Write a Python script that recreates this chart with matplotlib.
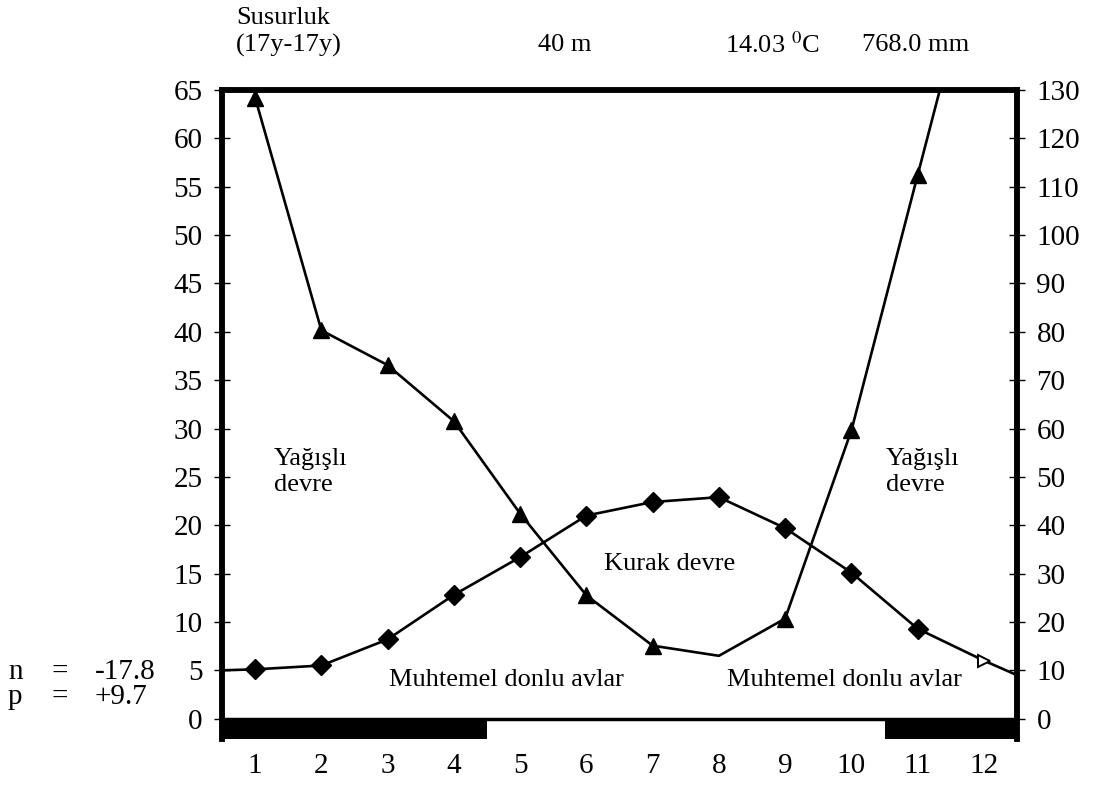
import numpy as np
import matplotlib
matplotlib.use("Agg")
import matplotlib.pyplot as plt

plt.rcParams['font.family'] = ['Liberation Serif', 'DejaVu Serif']
plt.rcParams['mathtext.fontset'] = 'stix'

# Walter-Lieth data for Susurluk
months = [1, 2, 3, 4, 5, 6, 7, 8, 9, 10, 11, 12]
temp = [5.1, 5.5, 8.2, 12.8, 16.7, 21.0, 22.4, 22.9, 19.7, 15.1, 9.3, 6.0]
precip = [128.4, 80.3, 73.1, 61.5, 42.4, 25.5, 15.1, 13.0, 20.7, 59.6, 112.4, 165.0]
temp_left_edge = 5.0
temp_right_edge = 4.5
frost_spans = [(0.5, 4.5), (10.5, 12.5)]

fig = plt.figure(figsize=(11.05, 7.85), dpi=100)
ax = fig.add_axes([0.2009, 0.0586, 0.7195, 0.8268])
ax2 = ax.twinx()

ax.set_xlim(0.5, 12.5)
ax.set_ylim(-2.1, 65)
ax2.set_ylim(-4.2, 130)

# temperature line incl. extension to the frame edges
tx = [0.5] + months + [12.5]
ty = [temp_left_edge] + temp + [temp_right_edge]
ax.plot(tx, ty, color="black", lw=1.9, zorder=3)
ax.plot(months[:-1], temp[:-1], ls="none", marker="D", ms=10, color="black", zorder=4)
ax.plot(months[-1:], temp[-1:], ls="none", marker=">", ms=9, mfc="white", mec="black", mew=1.4, zorder=4)

# precipitation line
ax2.plot(months, precip, color="black", lw=1.9, zorder=3)
shown = [i for i, p in enumerate(precip) if p <= 130 and months[i] != 8]
ax2.plot([months[i] for i in shown], [precip[i] for i in shown],
         ls="none", marker="^", ms=12, color="black", zorder=4)

# frost bars below zero
for a, b in frost_spans:
    ax.fill_between([a, b], -2.1, 0, color="black", lw=0, zorder=2)
ax.axhline(0, color="black", lw=2.5, zorder=2)

ax.spines["bottom"].set_visible(False)
ax2.spines["bottom"].set_visible(False)
for s in ["left", "top", "right"]:
    ax.spines[s].set_linewidth(4)
    ax2.spines[s].set_linewidth(4)

ax.set_yticks(np.arange(0, 66, 5))
ax2.set_yticks(np.arange(0, 131, 10))
ax.tick_params(axis="y", direction="inout", length=12, width=1, labelsize=21, pad=8)
ax2.tick_params(axis="y", direction="inout", length=12, width=1, labelsize=21, pad=8)
ax.set_xticks(months)
ax.tick_params(axis="x", length=0, labelsize=21, pad=10)

# annotations
top = dict(fontsize=19, va="center")
fig.text(236 / 1105, 1 - 18 / 785, "Susurluk", ha="left", **top)
fig.text(236 / 1105, 1 - 45 / 785, "(17y-17y)", ha="left", **top)
fig.text(565 / 1105, 1 - 45 / 785, "40 m", ha="center", **top)
fig.text(725 / 1105, 1 - 45 / 785, "14.03 $^{0}$C", ha="left", **top)
fig.text(862 / 1105, 1 - 45 / 785, "768.0 mm", ha="left", **top)

side = dict(fontsize=21, va="center")
fig.text(8 / 1105, 1 - 672 / 785, "n", ha="left", **side)
fig.text(60 / 1105, 1 - 672 / 785, "=", ha="center", **side)
fig.text(95 / 1105, 1 - 672 / 785, "-17.8", ha="left", **side)
fig.text(8 / 1105, 1 - 697 / 785, "p", ha="left", **side)
fig.text(60 / 1105, 1 - 697 / 785, "=", ha="center", **side)
fig.text(95 / 1105, 1 - 697 / 785, "+9.7", ha="left", **side)

ax.text(1.28, 28.0, "Yağışlı\ndevre", fontsize=19, va="top", ha="left", linespacing=1.25)
ax.text(10.52, 28.0, "Yağışlı\ndevre", fontsize=19, va="top", ha="left", linespacing=1.25)
ax.text(7.25, 16.0, "Kurak devre", fontsize=19, va="center", ha="center")
ax.text(4.8, 4.0, "Muhtemel donlu avlar", fontsize=19, va="center", ha="center")
ax.text(9.9, 4.0, "Muhtemel donlu avlar", fontsize=19, va="center", ha="center")

fig.savefig("out.png", dpi=100)
